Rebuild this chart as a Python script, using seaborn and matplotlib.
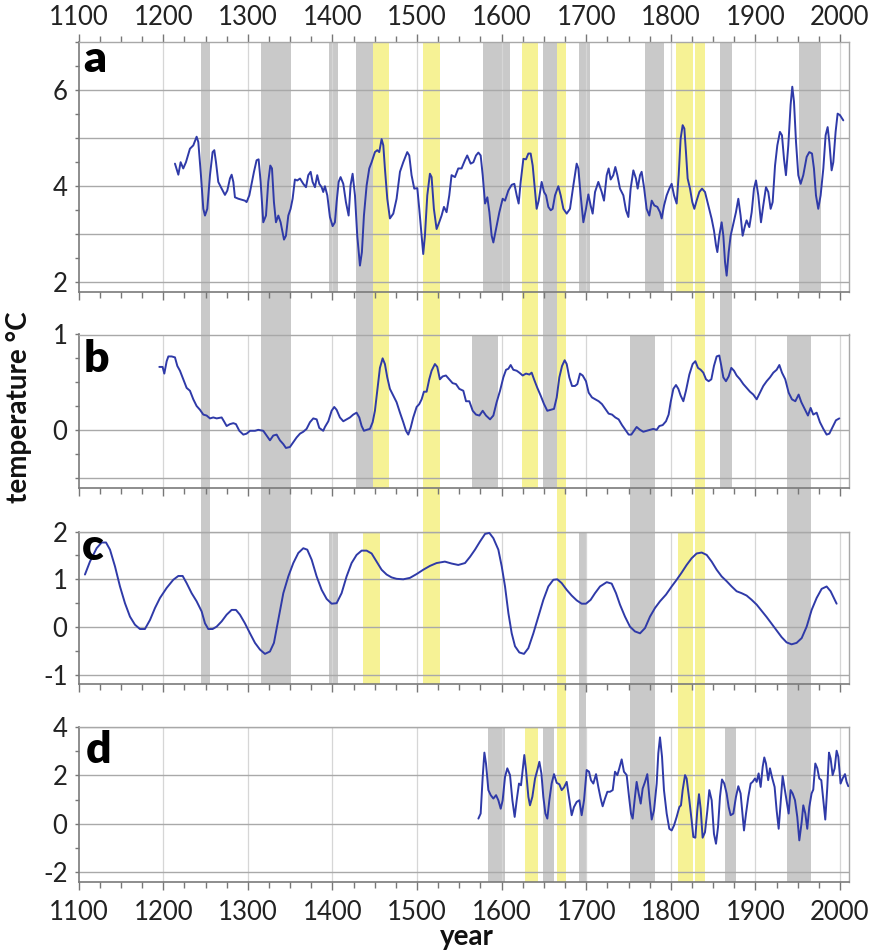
import matplotlib
matplotlib.use("Agg")
import matplotlib.pyplot as plt
import seaborn as sns
import numpy as np
from matplotlib.ticker import MultipleLocator, FixedLocator

# ---------------- data ----------------
# (year, temperature) pairs
a_pts = [(1213.8,4.47),(1217.8,4.24),(1220.5,4.5),(1223.6,4.37),(1226.8,4.5),(1231.5,4.78),(1235.5,4.85),
 (1239.4,5.03),(1241.4,4.92),(1244.5,4.23),(1247.3,3.53),(1249.3,3.39),(1252.0,3.53),(1255.2,4.23),
 (1258.3,4.71),(1260.3,4.75),(1262.3,4.5),(1265.0,4.09),(1269.0,3.95),(1272.9,3.82),(1275.7,3.91),
 (1278.8,4.16),(1280.8,4.24),(1282.8,4.09),(1284.7,3.77),(1288.7,3.74),(1292.6,3.72),(1296.5,3.7),
 (1298.5,3.67),(1301.7,3.81),(1304.4,4.05),(1307.2,4.3),(1310.3,4.54),(1312.7,4.56),(1315.1,4.09),
 (1318.2,3.25),(1321.4,3.39),(1324.1,4.09),(1326.5,4.43),(1328.5,4.37),(1330.8,3.67),(1333.2,3.25),
 (1336.0,3.39),(1338.7,3.25),(1342.7,2.89),(1345.0,2.97),(1347.8,3.39),(1350.5,3.53),(1352.9,3.74),
 (1355.6,4.14),(1358.4,4.12),(1361.6,4.16),(1365.5,4.05),(1368.7,3.98),(1371.4,4.23),(1374.2,4.3),
 (1376.5,4.09),(1379.3,3.98),(1382.0,4.23),(1384.4,4.05),(1387.2,3.98),(1389.1,3.88),(1391.1,4.0),
 (1393.9,3.81),(1397.0,3.36),(1400.2,3.17),(1402.9,3.25),(1404.9,3.67),(1407.3,4.09),(1409.6,4.19),
 (1412.8,4.05),(1415.9,3.67),(1419.1,3.39),(1421.4,4.02),(1423.8,4.26),(1426.6,3.81),(1429.3,2.97),
 (1432.5,2.35),(1434.8,2.63),(1437.2,3.39),(1440.4,4.02),(1443.5,4.37),(1446.3,4.5),(1450.2,4.71),
 (1453.0,4.75),(1455.3,4.71),(1458.1,4.98),(1460.1,4.85),(1462.0,4.37),(1464.8,3.74),(1467.9,3.33),
 (1471.9,3.43),(1475.8,3.74),(1479.8,4.3),(1483.7,4.5),(1488.4,4.71),(1490.8,4.64),(1493.5,4.23),
 (1496.7,3.95),(1500.3,3.96),(1502.6,3.53),(1505.4,2.97),(1507.3,2.59),(1509.3,2.97),(1512.1,3.81),
 (1515.2,4.26),(1517.2,4.19),(1519.9,3.53),(1523.1,3.11),(1526.2,3.25),(1529.0,3.39),(1531.8,3.57),
 (1534.9,3.46),(1538.1,3.81),(1540.8,4.23),(1544.8,4.19),(1548.7,4.37),(1552.6,4.37),(1556.6,4.54),
 (1559.3,4.64),(1563.4,4.47),(1566.6,4.5),(1569.7,4.64),(1572.5,4.7),(1575.2,4.64),(1577.6,4.23),
 (1580.4,3.64),(1583.1,3.77),(1585.5,3.46),(1588.2,2.97),(1590.2,2.83),(1593.4,3.11),(1597.3,3.46),
 (1601.2,3.74),(1604.0,3.7),(1607.9,3.91),(1611.9,4.03),(1615.0,4.05),(1617.8,3.81),(1620.1,3.64),
 (1622.5,4.09),(1625.7,4.57),(1628.8,4.56),(1631.6,4.68),(1634.3,4.68),(1636.7,4.43),(1639.5,3.88),
 (1641.4,3.53),(1643.8,3.7),(1647.3,4.09),(1650.1,3.88),(1652.5,3.81),(1655.2,3.57),(1658.0,3.5),
 (1660.3,3.53),(1663.1,3.81),(1667.0,4.0),(1669.8,3.81),(1673.0,3.53),(1676.9,3.43),(1680.8,3.53),
 (1684.8,4.02),(1688.7,4.47),(1690.7,4.37),(1693.4,3.81),(1696.6,3.25),(1699.7,3.53),(1702.5,3.83),
 (1705.2,3.6),(1707.6,3.43),(1710.4,3.88),(1714.3,4.09),(1718.3,3.88),(1721.0,3.7),(1724.2,4.23),
 (1726.5,4.37),(1728.9,4.14),(1732.0,4.23),(1734.4,4.4),(1736.8,4.23),(1739.9,3.95),(1743.9,3.81),
 (1747.0,3.5),(1749.8,3.36),(1752.5,3.95),(1755.7,4.33),(1758.8,4.16),(1760.8,3.95),(1763.6,4.23),
 (1765.5,4.3),(1768.3,3.98),(1771.4,3.53),(1774.6,3.39),(1777.4,3.7),(1780.5,3.6),(1784.1,3.57),
 (1787.2,3.46),(1789.2,3.33),(1792.0,3.6),(1795.1,3.81),(1798.2,3.95),(1801.0,4.05),(1803.8,3.81),
 (1806.9,3.64),(1809.3,4.23),(1811.6,4.99),(1814.0,5.27),(1816.0,5.2),(1817.9,4.71),(1819.9,4.16),
 (1822.7,3.95),(1825.4,3.67),(1827.8,3.53),(1830.5,3.7),(1833.7,3.88),(1836.9,3.95),(1840.4,3.88),
 (1844.3,3.6),(1848.3,3.32),(1851.0,3.08),(1853.4,2.77),(1855.0,2.63),(1857.3,2.97),(1860.1,3.25),
 (1862.1,2.97),(1864.1,2.42),(1866.0,2.14),(1868.4,2.63),(1870.7,2.97),(1873.9,3.22),(1877.0,3.46),
 (1879.8,3.74),(1882.5,3.39),(1884.9,2.97),(1887.7,3.18),(1889.6,3.29),(1892.8,3.15),(1895.6,3.46),
 (1898.3,3.95),(1900.7,4.12),(1903.4,3.81),(1906.6,3.25),(1909.3,3.6),(1912.5,3.98),(1915.2,3.88),
 (1918.0,3.53),(1920.4,3.67),(1923.2,4.43),(1925.9,4.85),(1929.0,5.13),(1931.4,5.06),(1933.8,4.57),
 (1936.1,4.23),(1938.9,4.85),(1941.6,5.69),(1943.6,6.07),(1945.6,5.76),(1948.0,4.92),(1950.7,4.23),
 (1953.5,4.05),(1956.6,4.23),(1960.6,4.61),(1963.7,4.71),(1966.9,4.68),(1969.2,4.37),(1971.6,3.81),
 (1974.3,3.53),(1977.1,3.81),(1980.3,4.37),(1983.0,5.06),(1985.4,5.23),(1987.4,4.92),(1990.1,4.33),
 (1992.1,4.5),(1994.8,5.13),(1997.2,5.51),(1999.9,5.48),(2003.9,5.37)]

b_pts = [(1195.3,0.66),(1199.2,0.66),(1201.2,0.59),(1204.0,0.72),(1206.0,0.77),(1209.9,0.77),(1213.8,0.76),
 (1216.6,0.67),(1219.7,0.62),(1223.7,0.53),(1227.6,0.44),(1231.5,0.41),(1235.5,0.32),(1239.4,0.25),
 (1243.4,0.21),(1247.3,0.16),(1251.2,0.15),(1255.2,0.12),(1259.1,0.13),(1263.1,0.12),(1269.0,0.13),
 (1271.7,0.09),(1274.9,0.04),(1278.8,0.06),(1282.8,0.07),(1285.9,0.06),(1289.9,-0.01),(1294.6,-0.05),
 (1298.5,-0.04),(1302.5,-0.01),(1308.4,-0.01),(1312.3,0.0),(1318.2,-0.01),(1322.2,-0.06),(1326.1,-0.11),
 (1330.0,-0.06),(1334.0,-0.05),(1337.9,-0.11),(1341.9,-0.15),(1345.0,-0.19),(1349.7,-0.18),(1353.7,-0.13),
 (1357.6,-0.08),(1361.6,-0.04),(1365.5,-0.02),(1369.4,0.01),(1373.4,0.08),(1377.3,0.12),(1381.3,0.11),
 (1384.4,0.02),(1389.1,-0.01),(1391.1,0.03),(1395.1,0.09),(1399.0,0.2),(1402.1,0.24),(1404.9,0.21),
 (1408.8,0.13),(1412.8,0.09),(1416.7,0.11),(1420.7,0.13),(1424.6,0.16),(1428.5,0.18),(1431.7,0.13),
 (1434.5,0.04),(1437.2,-0.01),(1440.4,0.0),(1444.3,0.01),(1447.5,0.08),(1450.2,0.2),(1453.0,0.41),
 (1456.1,0.65),(1459.3,0.75),(1462.0,0.69),(1464.8,0.55),(1467.9,0.43),(1471.9,0.36),(1475.8,0.29),
 (1479.8,0.18),(1483.7,0.08),(1486.9,-0.01),(1489.6,-0.05),(1492.4,0.02),(1495.5,0.13),(1499.5,0.24),
 (1502.6,0.27),(1505.4,0.32),(1508.1,0.4),(1511.3,0.4),(1514.4,0.53),(1517.2,0.62),(1521.1,0.69),
 (1523.9,0.66),(1527.0,0.53),(1530.2,0.56),(1534.1,0.57),(1538.1,0.53),(1542.0,0.49),(1546.0,0.48),
 (1549.9,0.43),(1554.7,0.41),(1557.9,0.3),(1561.8,0.3),(1565.8,0.2),(1569.7,0.16),(1573.7,0.15),
 (1577.6,0.2),(1581.5,0.15),(1586.3,0.11),(1590.2,0.15),(1594.1,0.29),(1598.1,0.41),(1602.0,0.55),
 (1605.2,0.63),(1607.9,0.64),(1610.7,0.68),(1613.8,0.63),(1617.8,0.62),(1620.9,0.6),(1624.9,0.57),
 (1628.8,0.59),(1632.8,0.58),(1635.5,0.6),(1638.3,0.53),(1642.2,0.44),(1646.1,0.36),(1650.1,0.27),
 (1654.0,0.2),(1658.0,0.21),(1661.9,0.22),(1665.1,0.34),(1668.2,0.55),(1671.4,0.67),(1674.5,0.73),
 (1676.9,0.69),(1680.0,0.55),(1683.2,0.46),(1686.7,0.46),(1689.5,0.48),(1692.6,0.59),(1695.8,0.57),
 (1699.7,0.51),(1702.9,0.39),(1706.8,0.34),(1710.8,0.32),(1714.7,0.3),(1718.6,0.27),(1722.6,0.22),
 (1726.5,0.17),(1730.5,0.16),(1734.4,0.13),(1738.3,0.11),(1742.3,0.05),(1746.2,0.0),(1750.2,-0.05),
 (1753.3,-0.05),(1756.5,-0.01),(1759.6,0.03),(1763.6,0.0),(1767.5,-0.02),(1771.4,-0.01),(1775.4,0.0),
 (1779.3,0.01),(1783.3,0.0),(1786.4,0.04),(1790.4,0.05),(1794.3,0.09),(1797.4,0.16),(1799.8,0.29),
 (1803.0,0.43),(1806.1,0.47),(1808.9,0.43),(1811.6,0.36),(1814.8,0.3),(1817.9,0.41),(1821.9,0.58),
 (1825.8,0.69),(1829.0,0.72),(1832.1,0.65),(1835.3,0.63),(1838.4,0.6),(1841.6,0.53),(1844.7,0.51),
 (1847.9,0.53),(1851.0,0.67),(1854.2,0.77),(1857.3,0.78),(1859.7,0.67),(1862.1,0.55),(1865.2,0.51),
 (1868.4,0.56),(1871.5,0.65),(1874.7,0.62),(1877.8,0.57),(1881.8,0.53),(1885.7,0.48),(1889.6,0.44),
 (1893.6,0.4),(1897.5,0.37),(1901.5,0.32),(1905.4,0.39),(1909.3,0.46),(1913.3,0.51),(1917.2,0.55),
 (1921.2,0.6),(1925.1,0.63),(1928.3,0.68),(1931.4,0.6),(1935.3,0.53),(1939.3,0.39),(1943.2,0.32),
 (1947.2,0.3),(1951.1,0.37),(1954.3,0.29),(1958.2,0.22),(1962.1,0.15),(1965.3,0.23),(1968.4,0.16),
 (1972.4,0.18),(1976.3,0.08),(1980.3,0.01),(1984.2,-0.05),(1987.4,-0.04),(1991.3,0.03),(1995.2,0.1),
 (1999.2,0.12)]

c_pts = [(1107.4,1.1),(1113.3,1.37),(1121.2,1.65),(1127.1,1.77),(1132.3,1.77),(1137.0,1.62),(1142.9,1.27),
 (1148.8,0.85),(1154.7,0.5),(1160.6,0.22),(1166.5,0.05),(1172.4,-0.04),(1178.3,-0.04),(1184.3,0.15),
 (1190.2,0.4),(1196.1,0.61),(1204.0,0.82),(1211.8,0.99),(1217.8,1.07),(1222.9,1.07),(1227.6,0.92),
 (1233.5,0.71),(1239.4,0.54),(1245.3,0.33),(1249.3,0.08),(1253.2,-0.04),(1258.3,-0.04),(1263.1,0.01),
 (1269.0,0.12),(1274.9,0.26),(1280.8,0.36),(1285.9,0.36),(1290.6,0.26),(1296.5,0.08),(1302.5,-0.13),
 (1308.4,-0.33),(1314.3,-0.47),(1320.2,-0.56),(1326.1,-0.51),(1330.8,-0.33),(1335.9,0.15),(1341.9,0.71),
 (1347.8,1.06),(1353.7,1.34),(1359.6,1.55),(1365.5,1.65),(1370.2,1.62),(1375.4,1.41),(1381.3,1.06),
 (1387.2,0.78),(1393.1,0.59),(1399.0,0.49),(1404.9,0.5),(1410.8,0.71),(1416.7,1.06),(1422.6,1.34),
 (1428.5,1.51),(1434.5,1.6),(1440.4,1.6),(1446.3,1.54),(1452.2,1.37),(1458.1,1.2),(1464.0,1.1),
 (1469.9,1.04),(1475.8,1.01),(1483.7,1.0),(1491.6,1.03),(1499.5,1.11),(1507.3,1.2),(1515.2,1.28),
 (1523.1,1.34),(1532.9,1.37),(1540.8,1.33),(1548.7,1.3),(1556.7,1.34),(1562.6,1.47),(1568.5,1.62),
 (1574.4,1.79),(1580.4,1.95),(1585.5,1.97),(1590.2,1.86),(1596.1,1.62),(1600.1,1.27),(1604.0,0.85),
 (1608.0,0.29),(1611.9,-0.13),(1615.8,-0.4),(1620.9,-0.53),(1626.4,-0.56),(1631.6,-0.44),(1637.5,-0.13),
 (1643.4,0.22),(1649.3,0.57),(1655.2,0.85),(1661.1,0.99),(1665.8,1.0),(1671.0,0.92),(1676.9,0.78),
 (1682.8,0.66),(1688.7,0.56),(1694.6,0.49),(1699.7,0.49),(1705.2,0.57),(1710.4,0.71),(1716.3,0.85),
 (1724.2,0.94),(1730.1,0.91),(1735.2,0.71),(1739.9,0.47),(1745.8,0.22),(1751.7,0.01),(1757.6,-0.09),
 (1763.6,-0.13),(1769.5,-0.02),(1775.4,0.22),(1781.3,0.4),(1787.2,0.54),(1794.3,0.68),(1801.0,0.85),
 (1806.9,0.99),(1812.8,1.14),(1818.7,1.3),(1824.6,1.44),(1830.5,1.54),(1836.5,1.56),(1842.4,1.51),
 (1848.3,1.37),(1854.2,1.2),(1860.1,1.06),(1866.0,0.96),(1871.9,0.85),(1877.8,0.75),(1883.7,0.71),
 (1889.6,0.66),(1895.6,0.57),(1901.5,0.47),(1907.4,0.34),(1913.3,0.21),(1919.2,0.07),(1925.1,-0.07),
 (1931.0,-0.21),(1936.9,-0.32),(1942.8,-0.36),(1948.7,-0.33),(1954.7,-0.23),(1960.6,0.01),(1966.5,0.36),
 (1972.4,0.61),(1978.3,0.8),(1984.2,0.85),(1988.9,0.75),(1996.0,0.49)]

d_pts = [(1572.5,0.21),(1575.2,0.42),(1577.6,1.94),(1579.6,2.94),(1581.5,2.49),(1584.3,1.39),(1587.1,1.18),
 (1590.2,1.04),(1593.4,1.18),(1596.1,0.97),(1598.9,0.62),(1601.2,0.97),(1604.0,1.94),(1606.7,2.29),
 (1609.9,2.01),(1612.7,0.97),(1615.4,0.28),(1617.8,0.97),(1620.5,1.66),(1622.9,1.59),(1624.9,2.22),
 (1626.8,2.84),(1628.8,2.22),(1631.6,1.11),(1633.5,0.76),(1636.3,1.11),(1639.5,1.87),(1642.2,2.22),
 (1644.6,2.56),(1647.0,2.08),(1649.3,1.11),(1651.7,0.42),(1654.0,0.21),(1656.4,0.97),(1659.1,1.66),
 (1661.9,2.05),(1665.1,1.69),(1668.2,1.63),(1671.0,1.39),(1673.7,1.5),(1676.9,1.73),(1679.6,1.11),
 (1682.8,0.35),(1685.5,0.69),(1688.7,0.9),(1691.9,0.97),(1694.6,0.35),(1697.4,0.97),(1700.5,2.22),
 (1703.3,2.15),(1705.6,1.8),(1708.4,1.66),(1711.6,2.05),(1714.3,1.52),(1717.1,1.04),(1719.4,0.72),
 (1722.2,1.04),(1725.0,1.32),(1728.1,1.32),(1731.3,1.39),(1734.0,2.15),(1736.8,2.01),(1739.1,2.29),
 (1741.9,2.66),(1744.6,2.15),(1747.8,2.01),(1750.6,1.11),(1752.9,0.42),(1754.9,0.21),(1757.6,1.11),
 (1759.6,1.73),(1762.0,1.25),(1764.4,0.83),(1766.7,1.45),(1769.5,1.73),(1772.2,2.05),(1774.6,1.11),
 (1777.4,0.17),(1780.1,0.55),(1783.3,1.66),(1785.2,2.91),(1787.2,3.57),(1789.6,2.77),(1791.9,1.39),
 (1795.1,0.42),(1798.2,-0.21),(1801.0,-0.28),(1803.8,-0.07),(1806.9,0.28),(1810.1,0.69),(1812.0,0.76),
 (1814.0,1.39),(1816.8,2.01),(1818.7,1.87),(1821.9,0.97),(1824.6,0.14),(1826.6,-0.55),(1829.0,-0.58),
 (1831.3,0.55),(1833.3,1.22),(1835.3,0.62),(1837.6,-0.58),(1840.4,-0.35),(1843.2,0.55),(1845.5,1.39),
 (1848.3,0.97),(1851.0,-0.42),(1853.4,-0.83),(1855.8,-0.14),(1858.1,1.11),(1860.5,1.83),(1863.2,1.66),
 (1866.0,1.25),(1868.4,0.69),(1870.7,0.35),(1873.9,0.42),(1877.0,1.11),(1879.8,1.55),(1882.5,1.25),
 (1884.9,0.35),(1886.5,-0.28),(1888.9,0.42),(1891.6,1.11),(1894.4,1.66),(1896.7,1.73),(1899.5,1.87),
 (1901.5,1.73),(1903.8,2.08),(1906.2,1.52),(1908.6,2.35),(1910.5,2.74),(1912.5,2.49),(1915.1,1.8),
 (1917.2,2.29),(1920.0,1.87),(1922.7,1.52),(1925.1,0.55),(1927.5,-0.21),(1929.8,0.83),(1932.2,1.97),
 (1934.6,1.45),(1936.9,0.97),(1939.3,0.42),(1941.6,1.39),(1944.0,1.25),(1946.8,0.97),(1949.5,0.28),
 (1951.9,-0.69),(1954.7,0.07),(1956.6,0.76),(1959.0,0.42),(1961.3,-0.21),(1963.7,0.69),(1966.4,1.25),
 (1968.4,1.41),(1970.8,2.49),(1973.2,2.29),(1975.5,1.87),(1977.9,1.8),(1980.3,0.97),(1982.6,0.17),
 (1985.0,1.52),(1987.0,2.94),(1988.9,2.7),(1991.3,2.01),(1993.7,2.29),(1996.0,3.02),(1998.0,2.77),
 (2000.7,1.66),(2003.1,1.87),(2005.9,2.05),(2007.8,1.73),(2009.8,1.55)]

panel_names = ["a", "b", "c", "d"]
x_ticks = [1100, 1200, 1300, 1400, 1500, 1600, 1700, 1800, 1900, 2000]

# highlighted periods: start year, end year, kind, first panel, last panel
band_start = [1245, 1315, 1396, 1396, 1428, 1448, 1507, 1578, 1624, 1649, 1665, 1692, 1770, 1806,
              1829, 1858, 1951, 1565, 1752, 1937, 1436, 1692, 1809, 1584, 1628, 1649, 1864]
band_end   = [1255, 1351, 1407, 1407, 1448, 1467, 1527, 1610, 1643, 1665, 1676, 1704, 1792, 1826,
              1841, 1872, 1978, 1596, 1781, 1966, 1456, 1700, 1826, 1604, 1643, 1662, 1877]
band_kind  = ["g", "g", "g", "g", "g", "y", "y", "g", "y", "g", "y", "g", "g", "y",
              "y", "g", "g", "g", "g", "g", "y", "g", "y", "g", "y", "g", "g"]
band_from  = ["a", "a", "a", "c", "a", "a", "a", "a", "a", "a", "a", "a", "a", "a",
              "a", "a", "a", "b", "b", "b", "c", "c", "c", "d", "d", "d", "d"]
band_to    = ["c", "c", "a", "c", "b", "b", "c", "a", "b", "b", "d", "a", "a", "a",
              "d", "b", "a", "b", "d", "d", "c", "d", "d", "d", "d", "d", "d"]

# ---------------- style ----------------
sns.set_theme(style="white")
FONT = ["Lato", "DejaVu Sans"]
plt.rcParams["font.family"] = FONT

W, H = 877, 952
fig = plt.figure(figsize=(W / 100, H / 100), dpi=100)
fig.patch.set_facecolor("white")

def px_box(top, bottom):
    left, right = 78.7, 849.3
    return [left / W, 1 - bottom / H, (right - left) / W, (bottom - top) / H]

boxes = {"a": px_box(42, 292), "b": px_box(334.5, 488), "c": px_box(531.5, 684), "d": px_box(727, 881.7)}
ylims = {"a": (1.8, 7.0), "b": (-0.61, 1.0), "c": (-1.19, 2.0), "d": (-2.4, 4.0)}
ymaj = {"a": [2, 4, 6], "b": [0, 1], "c": [-1, 0, 1, 2], "d": [-2, 0, 2, 4]}
ymin_step = {"a": 0.5, "b": 0.25, "c": 0.5, "d": 1.0}
hgrid = {"a": [2, 3, 4, 5, 6], "b": [-0.5, 0, 1], "c": [-1, 0, 1, 2], "d": [-2, 0, 2, 4]}
series = {"a": a_pts, "b": b_pts, "c": c_pts, "d": d_pts}
XLIM = (1100, 2011)

LINE = "#2f3aa8"
GRAY = "#c9c9c9"
YELLOW = "#f6f295"
colors = {"g": GRAY, "y": YELLOW}

# background axes for the highlight bands (spans whole figure height)
bg = fig.add_axes([boxes["a"][0], 0, boxes["a"][2], 1], zorder=0)
bg.set_xlim(*XLIM)
bg.set_ylim(0, 1)
bg.axis("off")
for s, e, k, f, t in zip(band_start, band_end, band_kind, band_from, band_to):
    top = boxes[f][1] + boxes[f][3]
    bottom = boxes[t][1]
    bg.bar(s, top - bottom, width=e - s, bottom=bottom, align="edge",
           color=colors[k], linewidth=0)

axes = {}
for name in panel_names:
    ax = fig.add_axes(boxes[name], zorder=2)
    ax.patch.set_alpha(0)
    axes[name] = ax
    yrs, vals = zip(*series[name])
    sns.lineplot(x=list(yrs), y=list(vals), ax=ax, color=LINE, linewidth=1.4,
                 estimator=None, zorder=5)
    ax.set_xlim(*XLIM)
    ax.set_ylim(*ylims[name])
    ax.set_xlabel("")
    ax.set_ylabel("")
    # grids
    for xv in x_ticks[1:]:
        ax.axvline(xv, color="#d6d6d6", lw=0.9, zorder=1)
    for yv in hgrid[name]:
        ax.axhline(yv, color="#a9a9a9", lw=1.0, zorder=1)
    # ticks
    ax.xaxis.set_major_locator(FixedLocator(x_ticks))
    ax.xaxis.set_minor_locator(MultipleLocator(25))
    ax.yaxis.set_major_locator(FixedLocator(ymaj[name]))
    ax.yaxis.set_minor_locator(MultipleLocator(ymin_step[name]))
    ax.tick_params(axis="both", which="both", direction="out", color="#777777", width=1.0)
    ax.tick_params(axis="x", which="major", length=6)
    ax.tick_params(axis="x", which="minor", length=4)
    ax.tick_params(axis="y", which="both", length=3, left=True)
    ax.tick_params(axis="y", which="major", labelsize=18.5, pad=5, labelcolor="#222222")
    ax.tick_params(axis="x", which="major", labelsize=18.5, labelcolor="#222222")
    ax.tick_params(axis="x", which="both", bottom=True, labelbottom=False)
    ax.set_yticklabels([str(v) for v in ymaj[name]])
    for side in ["top", "right"]:
        ax.spines[side].set_color("#a8a8a8")
        ax.spines[side].set_linewidth(1.0)
        ax.spines[side].set_visible(True)
    for side in ["left", "bottom"]:
        ax.spines[side].set_color("#7a7a7a")
        ax.spines[side].set_linewidth(1.2)
        ax.spines[side].set_visible(True)
    for lab in ax.get_yticklabels():
        lab.set_family(FONT)

axes["a"].tick_params(axis="x", which="both", top=True, labeltop=True, pad=3)
axes["d"].tick_params(axis="x", which="both", labelbottom=True, pad=7)
for name in ["a", "d"]:
    for lab in axes[name].get_xticklabels():
        lab.set_family(FONT)

# panel letters
letter_pos = {"a": (83, 72), "b": (84, 372), "c": (82, 560), "d": (85.5, 763)}
for name, (x, y) in letter_pos.items():
    fig.text(x / W, 1 - y / H, name, fontsize=32, fontweight="heavy", family=FONT,
             ha="left", va="baseline", color="black", zorder=3)

fig.text(19 / W, 1 - 407 / H, "temperature °C", rotation=90, fontsize=20, fontweight="bold",
         family=FONT, ha="center", va="center", color="#111111")
fig.text(467 / W, 1 - 937 / H, "year", fontsize=20, fontweight="bold", family=FONT,
         ha="center", va="center", color="#111111")

fig.savefig("out.png", dpi=100, facecolor="white")
